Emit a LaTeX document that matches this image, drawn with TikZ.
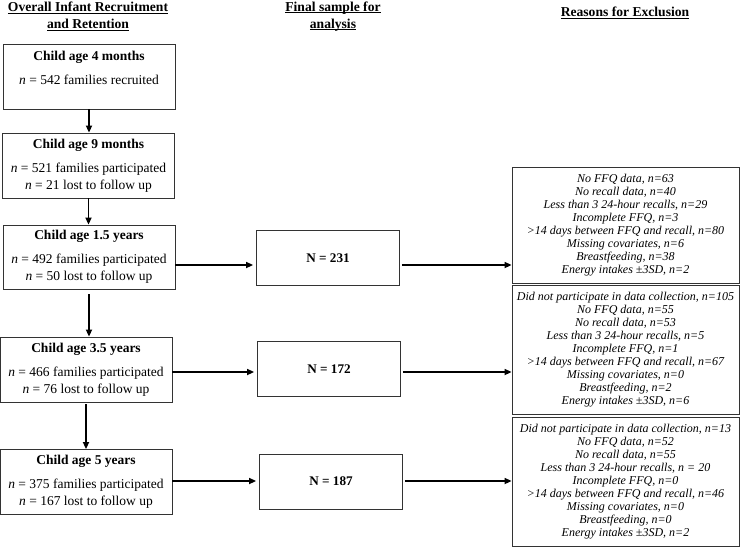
\documentclass[tikz,border=0pt]{standalone}
\usepackage{fontspec}
\setmainfont{Liberation Serif}
\newcommand{\hdline}[1]{\setbox0\hbox{#1}\rlap{\rule[-1.6pt]{\wd0}{0.7pt}}\box0}
\usetikzlibrary{arrows.meta,positioning}

\begin{document}
\begin{tikzpicture}[x=1pt, y=-1pt,
  every node/.style={font=\fontsize{13.5}{17}\selectfont},
  bx/.style={draw=black!80, line width=0.8pt, align=center, inner sep=2pt},
  agebx/.style={bx, minimum width=172pt, minimum height=65pt},
  finbx/.style={bx, minimum width=143pt, minimum height=55pt, font=\fontsize{13.2}{15}\selectfont\bfseries},
  exbx/.style={bx, minimum width=227pt, font=\fontsize{12}{13}\selectfont\itshape},
  hd/.style={font=\fontsize{13.6}{17}\selectfont\bfseries, align=center},
  arr/.style={-{Triangle[length=7pt,width=6pt]}, line width=1.6pt}]
\useasboundingbox (0,0) rectangle (740,547);
% headings
\node[hd] (hdage) at (88,16.5) {\hdline{Overall Infant Recruitment}\\\hdline{and Retention}};
\node[hd] (hdfin) at (333,16.5) {\hdline{Final sample for}\\\hdline{analysis}};
\node[hd] (hdex) at (625,13) {\hdline{Reasons for Exclusion}};
% recruitment and retention
\node[agebx] (age4) at (89,76.5) {\textbf{Child age 4 months}\\[7pt]\textit{n} = 542 families recruited\\\mbox{}};
\node[agebx] (age9) at (88.5,165.5) {\textbf{Child age 9 months}\\[7pt]\textit{n} = 521 families participated\\\textit{n} = 21 lost to follow up};
\node[agebx, minimum height=64pt] (age15) at (89,257) {\textbf{Child age 1.5 years}\\[7pt]\textit{n} = 492 families participated\\\textit{n} = 50 lost to follow up};
\node[agebx] (age35) at (86,369.5) {\textbf{Child age 3.5 years}\\[7pt]\textit{n} = 466 families participated\\\textit{n} = 76 lost to follow up};
\node[agebx] (age5) at (86,482) {\textbf{Child age 5 years}\\[7pt]\textit{n} = 375 families participated\\\textit{n} = 167 lost to follow up};
% final sample
\node[finbx] (fin15) at (328,258) {N = 231};
\node[finbx] (fin35) at (329,369) {N = 172};
\node[finbx] (fin5) at (331,481.5) {N = 187};
% reasons for exclusion
\node[exbx, minimum height=116pt] (ex15) at (625.5,225) {No FFQ data, n=63\\No recall data, n=40\\Less than 3 24-hour recalls, n=29\\Incomplete FFQ, n=3\\>14 days between FFQ and recall, n=80\\Missing covariates, n=6\\Breastfeeding, n=38\\Energy intakes ±3SD, n=2};
\node[exbx, minimum height=129pt] (ex35) at (625.5,349.5) {Did not participate in data collection, n=105\\No FFQ data, n=55\\No recall data, n=53\\Less than 3 24-hour recalls, n=5\\Incomplete FFQ, n=1\\>14 days between FFQ and recall, n=67\\Missing covariates, n=0\\Breastfeeding, n=2\\Energy intakes ±3SD, n=6};
\node[exbx, minimum height=129pt] (ex5) at (625.5,481.5) {Did not participate in data collection, n=13\\No FFQ data, n=52\\No recall data, n=55\\Less than 3 24-hour recalls, n = 20\\Incomplete FFQ, n=0\\>14 days between FFQ and recall, n=46\\Missing covariates, n=0\\Breastfeeding, n=0\\Energy intakes ±3SD, n=2};
% rows of the horizontal arrows
\coordinate (row15) at (0,265);
\coordinate (row35) at (0,372);
\coordinate (row5) at (0,481);
% Arrows
\draw[arr] (age4.south) -- (age4.south |- age9.north);
\draw[arr] (age9.south) -- (age9.south |- age15.north);
\draw[arr, shorten <=5pt] (age15.south) -- (age15.south |- age35.north);
\draw[arr, shorten <=2pt] (age35.south) -- (age35.south |- age5.north);
\draw[arr, shorten >=3pt] (age15.east |- row15) -- (fin15.west |- row15);
\draw[arr, shorten >=3pt] (age35.east |- row35) -- (fin35.west |- row35);
\draw[arr, shorten >=3pt] (age5.east |- row5) -- (fin5.west |- row5);
\draw[arr, shorten <=2pt] (fin15.east |- row15) -- (ex15.west |- row15);
\draw[arr, shorten <=2pt] (fin35.east |- row35) -- (ex35.west |- row35);
\draw[arr, shorten <=2pt] (fin5.east |- row5) -- (ex5.west |- row5);
\end{tikzpicture}
\end{document}
